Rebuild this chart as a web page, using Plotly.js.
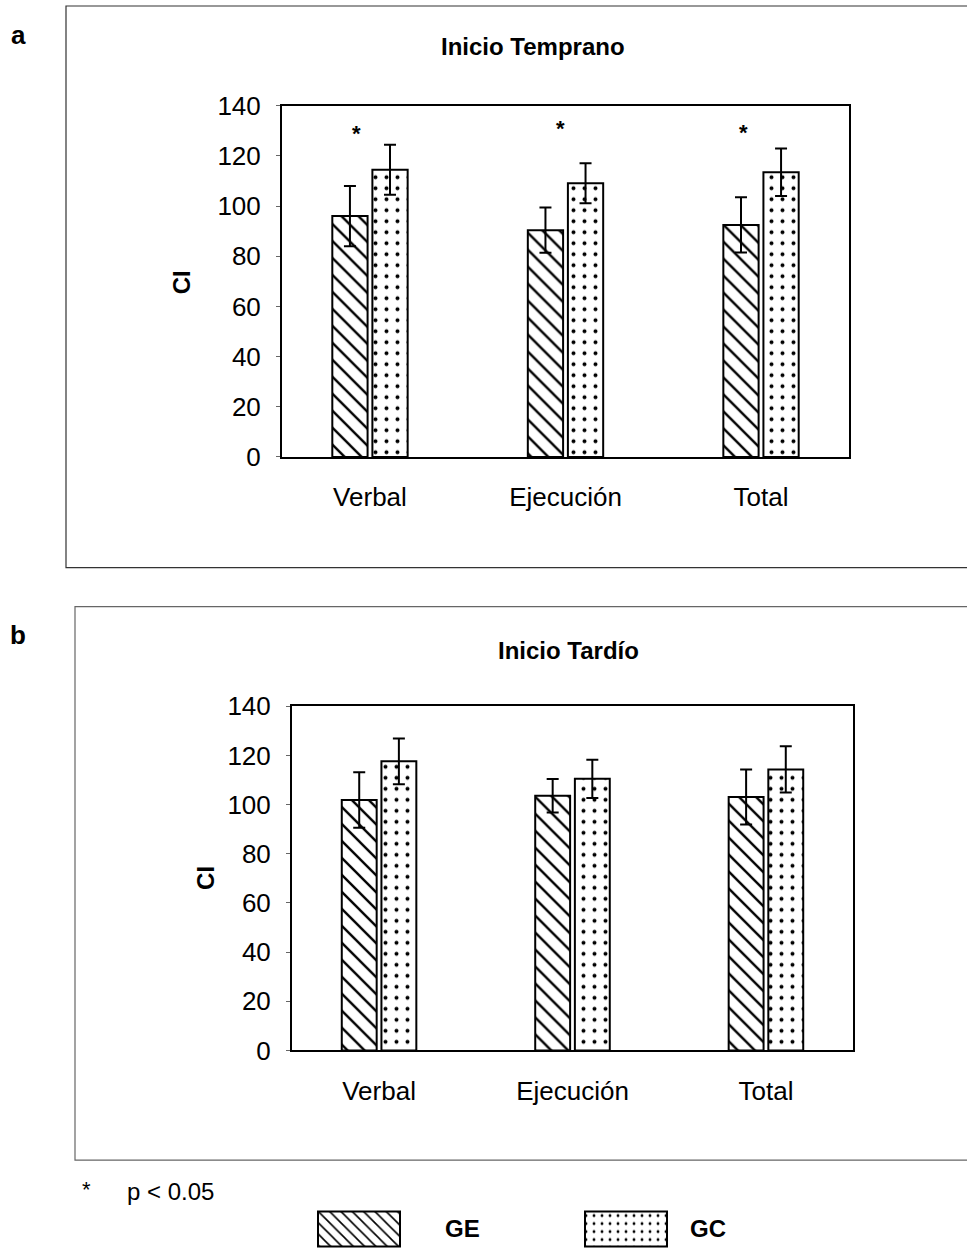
<!DOCTYPE html>
<html>
<head>
<meta charset="utf-8">
<script src="https://cdn.plot.ly/plotly-3.0.1.min.js"></script>
<style>
  html, body { margin: 0; padding: 0; background: #fff; }
  #chart { width: 967px; height: 1251px; }
</style>
</head>
<body>
<div id="chart"></div>
<script>
// ---- data ----
const categories = ['Verbal', 'Ejecución', 'Total'];
const seriesNames = ['GE', 'GC'];

// Panel a: Inicio Temprano
const geTemprano = [96, 90.4, 92.5];
const geTempranoErr = [12, 9, 11];
const gcTemprano = [114.5, 109.1, 113.5];
const gcTempranoErr = [10, 8, 9.5];
const starLevels = [129, 131, 129.5];

// Panel b: Inicio Tardío
const geTardio = [101.9, 103.6, 103.1];
const geTardioErr = [11.3, 6.8, 11.2];
const gcTardio = [117.6, 110.5, 114.3];
const gcTardioErr = [9.3, 7.8, 9.4];

const yTickValues = [0, 20, 40, 60, 80, 100, 120, 140];

// ---- helpers ----
const W = 967, H = 1251;
const px = x => x / W;
const py = y => 1 - y / H;
const FONT = 'Liberation Sans, Arial, sans-serif';

const patGE = { shape: '\\', fgcolor: '#000', bgcolor: '#fff', size: 12, solidity: 0.2 };
const patGC = { shape: '.', fgcolor: '#000', bgcolor: '#fff', size: 11, solidity: 0.1 };

function barTrace(name, y, err, pat, xa, ya, showlegend) {
  return {
    type: 'bar', name: name, x: categories, y: y,
    xaxis: xa, yaxis: ya, showlegend: showlegend, legendgroup: name,
    marker: { color: '#fff', pattern: pat, line: { color: '#000', width: 2 } },
    error_y: { type: 'data', array: err, visible: true, color: '#000', thickness: 2, width: 6 },
    hoverinfo: 'skip'
  };
}

const data = [
  barTrace(seriesNames[0], geTemprano, geTempranoErr, patGE, 'x', 'y', true),
  barTrace(seriesNames[1], gcTemprano, gcTempranoErr, patGC, 'x', 'y', true),
  barTrace(seriesNames[0], geTardio, geTardioErr, patGE, 'x2', 'y2', false),
  barTrace(seriesNames[1], gcTardio, gcTardioErr, patGC, 'x2', 'y2', false)
];

function xAxis(domain, anchor) {
  return {
    domain: domain, anchor: anchor, type: 'category',
    range: [-0.45, 2.45],
    showline: true, mirror: true, linecolor: '#000', linewidth: 2,
    ticks: '', showgrid: false, zeroline: false,
    tickfont: { family: FONT, size: 26, color: '#000' },
    ticklabelstandoff: 16, fixedrange: true
  };
}
function yAxis(domain, anchor) {
  return {
    domain: domain, anchor: anchor, range: [0, 140],
    tickvals: yTickValues,
    showline: true, mirror: true, linecolor: '#000', linewidth: 2,
    ticks: 'outside', ticklen: 4, tickcolor: '#666', tickwidth: 1,
    showgrid: false, zeroline: false,
    tickfont: { family: FONT, size: 26, color: '#000' },
    ticklabelstandoff: 10, fixedrange: true
  };
}

const starShift = [-13, -5, -18];
const annotations = [];
categories.forEach((c, i) => {
  annotations.push({
    xref: 'x', yref: 'y', x: c, y: starLevels[i], text: '<b>*</b>', showarrow: false,
    xanchor: 'center', yanchor: 'middle',
    xshift: starShift[i], font: { family: FONT, size: 22, color: '#000' }
  });
});

function paperText(x, y, text, size, extra) {
  return Object.assign({
    xref: 'paper', yref: 'paper', x: px(x), y: py(y), text: text, showarrow: false,
    xanchor: 'center', yanchor: 'middle',
    font: { family: FONT, size: size, color: '#000' }
  }, extra || {});
}

annotations.push(
  paperText(18, 35, '<b>a</b>', 26),
  paperText(18, 637, '<b>b</b>', 26),
  paperText(533, 47, '<b>Inicio Temprano</b>', 24),
  paperText(568, 652, '<b>Inicio Tardío</b>', 24),
  paperText(181, 283, '<b>CI</b>', 24, { textangle: -90 }),
  paperText(206, 880, '<b>CI</b>', 24, { textangle: -90 }),
  paperText(86, 1192, '*', 22),
  paperText(125, 1194, 'p < 0.05', 24, { xanchor: 'left' })
);

const shapes = [
  { type: 'rect', xref: 'paper', yref: 'paper', x0: px(66), x1: px(975), y0: py(569), y1: py(6),
    line: { color: '#333', width: 1.2 } },
  { type: 'rect', xref: 'paper', yref: 'paper', x0: px(75), x1: px(975), y0: py(1163), y1: py(608),
    line: { color: '#666', width: 1.2 } }
];

const layout = {
  width: W, height: H,
  margin: { l: 0, r: 0, t: 0, b: 0 },
  paper_bgcolor: '#fff', plot_bgcolor: '#fff',
  font: { family: FONT, color: '#000' },
  barmode: 'group', bargap: 0.59, bargroupgap: 0.12,
  xaxis: xAxis([px(282), px(849)], 'y'),
  yaxis: yAxis([py(458), py(106)], 'x'),
  xaxis2: xAxis([px(292), px(853)], 'y2'),
  yaxis2: yAxis([py(1053), py(708)], 'x2'),
  showlegend: true,
  legend: {
    orientation: 'h', x: px(405), y: py(1231), xanchor: 'left', yanchor: 'middle',
    font: { family: FONT, size: 24, color: '#000', weight: 'bold' },
    itemwidth: 30, entrywidth: 200, entrywidthmode: 'pixels',
    bgcolor: 'rgba(0,0,0,0)', borderwidth: 0
  },
  annotations: annotations,
  shapes: shapes
};

// legend swatches enlarged to the size of the reference boxes (left edge, width, height)
const swatchLeft = [318, 585];
const swatchW = 82, swatchH = 35, swatchCenterY = 1229;

Plotly.newPlot('chart', data, layout, { staticPlot: true, displayModeBar: false }).then(gd => {
  // let the enlarged swatches extend beyond the legend box
  gd.querySelectorAll('.legend [clip-path]').forEach(el => el.removeAttribute('clip-path'));
  const items = gd.querySelectorAll('.legend .traces');
  items.forEach((g, i) => {
    const path = g.querySelector('.legendpoints path');
    if (!path || i >= swatchLeft.length) return;
    const m = path.getCTM();
    const lx = (swatchLeft[i] - m.e) / m.a;
    const rx = (swatchLeft[i] + swatchW - m.e) / m.a;
    const ty = (swatchCenterY - swatchH / 2 - m.f) / m.d;
    const by = (swatchCenterY + swatchH / 2 - m.f) / m.d;
    path.setAttribute('d', `M${lx},${ty}H${rx}V${by}H${lx}Z`);
  });
});
</script>
</body>
</html>
